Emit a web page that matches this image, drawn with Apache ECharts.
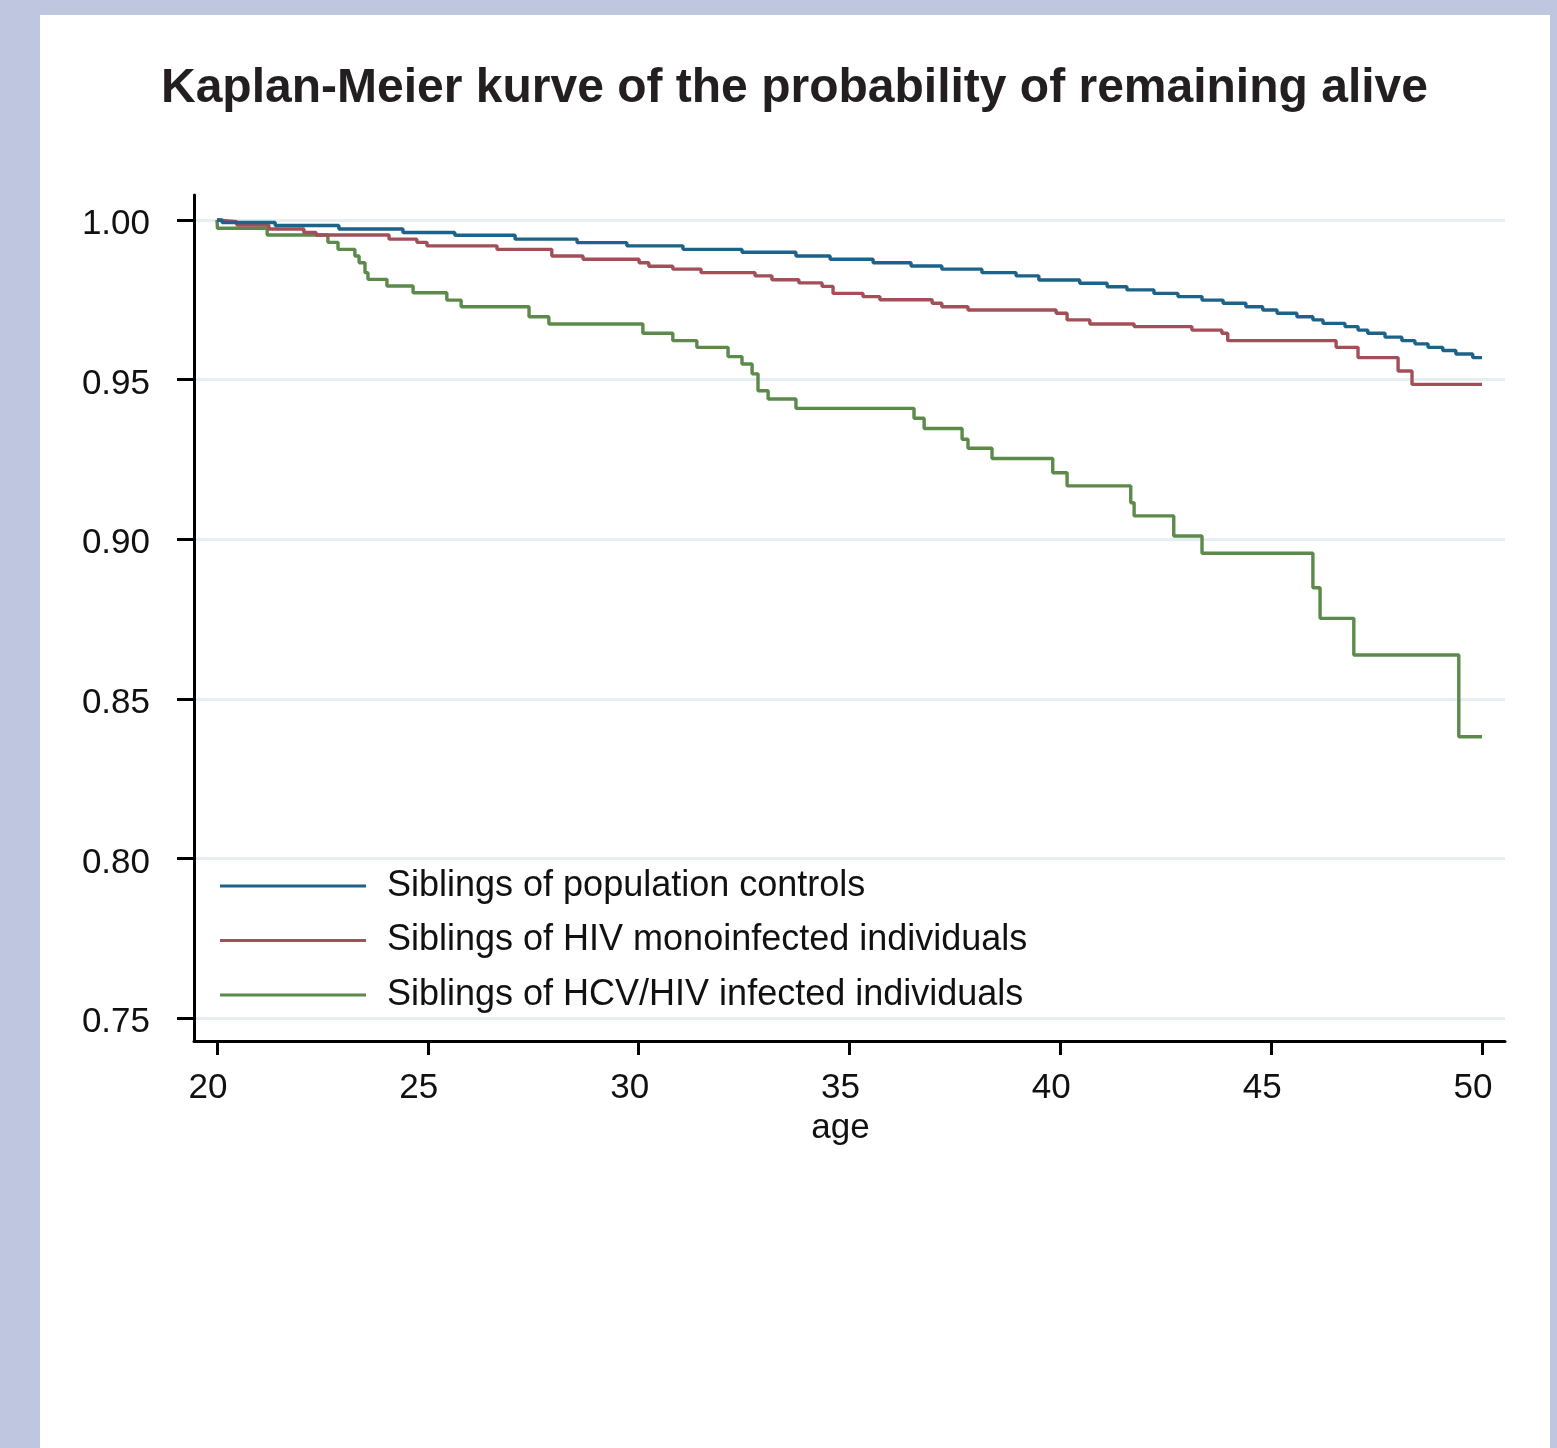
<!DOCTYPE html>
<html>
<head>
<meta charset="utf-8">
<script src="https://cdn.jsdelivr.net/npm/echarts@6/dist/echarts.min.js"></script>
<style>
  html, body { margin: 0; padding: 0; background: #bec6e0; width: 1557px; height: 1448px; overflow: hidden; }
  #panel { position: absolute; left: 40px; top: 15px; width: 1510px; height: 1440px; background: #ffffff; }
  #chart { position: absolute; left: 0; top: 0; width: 1557px; height: 1448px; }
</style>
</head>
<body>
<div id="panel"></div>
<div id="chart"></div>
<script>
// ---- data ----
const seriesNames = [
  'Siblings of population controls',
  'Siblings of HIV monoinfected individuals',
  'Siblings of HCV/HIV infected individuals'
];
const controlsAge = [20, 20.12, 21.38, 22.89, 24.41, 25.64, 27.07, 28.54, 29.72, 31.05, 32.45, 33.73, 34.54, 35.56, 36.46, 37.19, 38.14, 38.95, 39.49, 40.46, 41.11, 41.58, 42.22, 42.79, 43.36, 43.86, 44.40, 44.80, 45.14, 45.61, 45.99, 46.23, 46.75, 47.06, 47.29, 47.70, 48.10, 48.41, 48.72, 49.07, 49.38, 49.78, 50];
const controlsSurv = [1.0, 0.9992, 0.9983, 0.9972, 0.9961, 0.9952, 0.9940, 0.9929, 0.9919, 0.9908, 0.9899, 0.9887, 0.9877, 0.9866, 0.9856, 0.9846, 0.9835, 0.9825, 0.9812, 0.9802, 0.9791, 0.9781, 0.9770, 0.9760, 0.9749, 0.9739, 0.9728, 0.9718, 0.9708, 0.9697, 0.9687, 0.9676, 0.9666, 0.9655, 0.9645, 0.9633, 0.9622, 0.9612, 0.9601, 0.9591, 0.9580, 0.9569, 0.9569];

const hivAge = [20, 20.02, 20.47, 21.23, 22.06, 22.35, 24.08, 24.74, 24.98, 26.64, 27.94, 28.68, 30.01, 30.24, 30.81, 31.48, 32.76, 33.16, 33.80, 34.35, 34.61, 35.32, 35.72, 36.96, 37.19, 37.81, 39.90, 40.16, 40.70, 41.75, 43.12, 43.83, 43.97, 46.54, 47.06, 48.01, 48.34, 50];
const hivSurv = [1.0, 0.9995, 0.9984, 0.9972, 0.9961, 0.9953, 0.9940, 0.9930, 0.9919, 0.9908, 0.9887, 0.9877, 0.9866, 0.9855, 0.9846, 0.9835, 0.9825, 0.9813, 0.9803, 0.9792, 0.9770, 0.9760, 0.9750, 0.9739, 0.9728, 0.9718, 0.9708, 0.9687, 0.9674, 0.9666, 0.9655, 0.9645, 0.9622, 0.9601, 0.9569, 0.9527, 0.9485, 0.9485];

const hcvAge = [20, 20.01, 21.19, 22.63, 22.87, 23.27, 23.37, 23.51, 23.58, 24.03, 24.65, 25.45, 25.79, 27.40, 27.87, 30.10, 30.81, 31.38, 32.12, 32.45, 32.69, 32.83, 33.07, 33.73, 36.53, 36.77, 37.67, 37.81, 38.38, 39.82, 40.16, 41.67, 41.75, 42.69, 43.36, 45.99, 46.16, 46.96, 49.45, 50];
const hcvSurv = [1.0, 0.9974, 0.9953, 0.9930, 0.9908, 0.9887, 0.9866, 0.9835, 0.9814, 0.9793, 0.9772, 0.9749, 0.9728, 0.9697, 0.9674, 0.9645, 0.9622, 0.9601, 0.9572, 0.9549, 0.9518, 0.9465, 0.9439, 0.9410, 0.9379, 0.9347, 0.9313, 0.9285, 0.9253, 0.9208, 0.9167, 0.9114, 0.9073, 0.9010, 0.8956, 0.8848, 0.8752, 0.8637, 0.8381, 0.8381];

const xTicks = [20, 25, 30, 35, 40, 45, 50];
const yTicks = [0.75, 0.80, 0.85, 0.90, 0.95, 1.00];

// ---- layout ----
const FONT = '"Liberation Sans", Arial, Helvetica, sans-serif';
const colors = ['#1d6289', '#a24f58', '#5b8a4a'];
const gridLeft = 194, gridRight = 52, gridTop = 195, gridBottom = 407;
const plotW = 1557 - gridLeft - gridRight;
const plotH = 1448 - gridTop - gridBottom;
// data area inside the axis frame: age 20 at +23px, 50 at -23px; 1.00 at +25px, 0.75 at -23px
const padX = 23, padTop = 25, padBottom = 23;
const xPerPx = (50 - 20) / (plotW - 2 * padX);
const yPerPx = (1.0 - 0.75) / (plotH - padTop - padBottom);
const xMin = 20 - padX * xPerPx, xMax = 50 + padX * xPerPx;
const yMax = 1.0 + padTop * yPerPx, yMin = 0.75 - padBottom * yPerPx;

function zip(a, b) { return a.map((v, i) => [v, b[i]]); }
const seriesData = [zip(controlsAge, controlsSurv), zip(hivAge, hivSurv), zip(hcvAge, hcvSurv)];

const chart = echarts.init(document.getElementById('chart'), null, { renderer: 'canvas' });
chart.setOption({
  backgroundColor: 'transparent',
  animation: false,
  color: colors,
  title: {
    text: 'Kaplan-Meier kurve of the probability of remaining alive',
    left: 156,
    top: 60,
    textStyle: { fontFamily: FONT, fontSize: 48, fontWeight: 'bold', color: '#231f20' }
  },
  legend: {
    orient: 'vertical',
    left: 215,
    top: 863,
    itemWidth: 146,
    itemHeight: 3,
    itemGap: 18.5,
    icon: 'rect',
    selectedMode: false,
    textStyle: { fontFamily: FONT, fontSize: 36, color: '#111', padding: [0, 0, 0, 16] },
    data: seriesNames
  },
  grid: { left: gridLeft, right: gridRight, top: gridTop, bottom: gridBottom, containLabel: false },
  xAxis: {
    type: 'value',
    min: xMin,
    max: xMax,
    name: 'age',
    nameLocation: 'middle',
    nameGap: 50,
    nameTextStyle: { fontFamily: FONT, fontSize: 35, color: '#111', padding: [0, 18, 0, 0] },
    axisLine: { show: true, onZero: false, lineStyle: { color: '#000', width: 3 } },
    axisTick: { show: true, length: 14, lineStyle: { color: '#000', width: 3 }, customValues: xTicks },
    axisLabel: { show: true, margin: 30, fontFamily: FONT, fontSize: 35, color: '#111', padding: [0, 18, 0, 0], customValues: xTicks, formatter: v => String(Math.round(v)) },
    splitLine: { show: false }
  },
  yAxis: {
    type: 'value',
    min: yMin,
    max: yMax,
    axisLine: { show: true, onZero: false, lineStyle: { color: '#000', width: 3 } },
    axisTick: { show: true, length: 17, lineStyle: { color: '#000', width: 3 }, customValues: yTicks },
    axisLabel: { show: true, margin: 44, fontFamily: FONT, fontSize: 35, color: '#111', verticalAlign: 'top', lineHeight: 9, customValues: yTicks, formatter: v => v.toFixed(2) },
    splitLine: { show: true, lineStyle: { color: '#e5eef0', width: 3 } }
  },
  series: seriesNames.map((n, i) => ({
    name: n,
    type: 'line',
    step: 'end',
    data: seriesData[i],
    showSymbol: false,
    symbol: 'none',
    lineStyle: { width: 3.4, color: colors[i] },
    itemStyle: { color: colors[i] },
    z: 3 - i
  }))
});
</script>
</body>
</html>
